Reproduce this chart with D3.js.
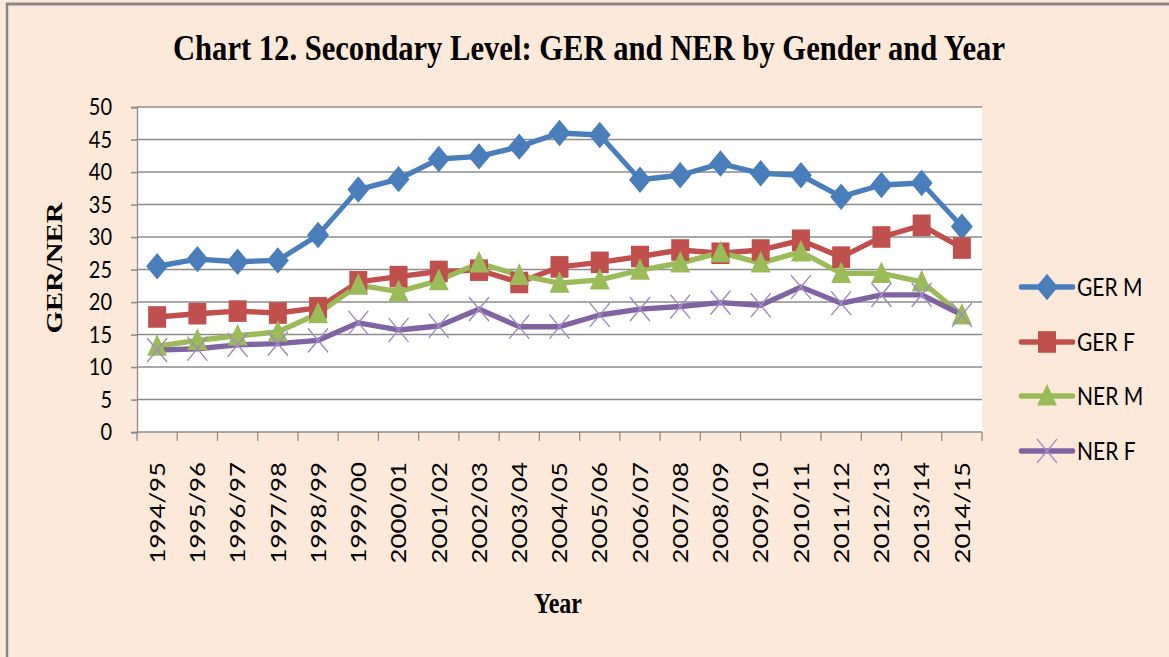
<!DOCTYPE html>
<html>
<head>
<meta charset="utf-8">
<script src="https://cdn.jsdelivr.net/npm/d3@7"></script>
<style>
  html, body { margin: 0; padding: 0; background: #fde9d9; overflow: hidden; }
</style>
</head>
<body>
<div id="chart"></div>
<script>
const years = ["1994/95", "1995/96", "1996/97", "1997/98", "1998/99", "1999/00", "2000/01",
  "2001/02", "2002/03", "2003/04", "2004/05", "2005/06", "2006/07", "2007/08", "2008/09",
  "2009/10", "2010/11", "2011/12", "2012/13", "2013/14", "2014/15"]
const gerM = [25.5, 26.6, 26.2, 26.4, 30.3, 37.3, 38.9, 42.0, 42.4, 43.9, 46.0, 45.7, 38.8, 39.5, 41.3, 39.8, 39.5, 36.2, 38.0, 38.3, 31.6]
const gerF = [17.7, 18.2, 18.6, 18.3, 19.1, 23.1, 23.9, 24.7, 24.9, 23.0, 25.4, 26.1, 27.0, 28.0, 27.5, 28.0, 29.5, 26.9, 30.0, 31.8, 28.3]
const nerM = [13.2, 14.1, 14.8, 15.4, 18.2, 22.6, 21.6, 23.3, 26.0, 24.1, 22.9, 23.4, 24.9, 26.0, 27.6, 26.0, 27.7, 24.4, 24.4, 23.1, 18.0]
const nerF = [12.6, 12.8, 13.4, 13.6, 14.1, 16.8, 15.7, 16.3, 18.9, 16.2, 16.2, 18.0, 18.9, 19.3, 19.9, 19.5, 22.3, 19.8, 21.1, 21.1, 18.0]
const seriesNames = ["GER M", "GER F", "NER M", "NER F"]
const yTicks = [0, 5, 10, 15, 20, 25, 30, 35, 40, 45, 50]

const W = 1169, H = 657
const S = 1.2   // the picture is stretched vertically
const sy = v => v / S

const series = [
  { name: seriesNames[0], values: gerM, color: "#4a7ebb", marker: "diamond" },
  { name: seriesNames[1], values: gerF, color: "#c0504d", marker: "square" },
  { name: seriesNames[2], values: nerM, color: "#9bbb59", marker: "triangle" },
  { name: seriesNames[3], values: nerF, color: "#8064a2", marker: "x" }
]

const plot = { left: 137, right: 982, top: 107, bottom: 432 }

const svg = d3.select("#chart").append("svg")
  .attr("width", W)
  .attr("height", H)
  .attr("viewBox", [0, 0, W, H / S].join(" "))
  .attr("preserveAspectRatio", "none")

// background + frame
svg.append("rect")
  .attr("x", 7).attr("y", sy(4))
  .attr("width", 1400).attr("height", 800)
  .attr("fill", "#fde9d9")
  .attr("stroke", "#878787")
  .attr("stroke-width", 2.5)

svg.append("rect")
  .attr("x", plot.left).attr("y", sy(plot.top))
  .attr("width", plot.right - plot.left)
  .attr("height", sy(plot.bottom - plot.top))
  .attr("fill", "#ffffff")

const x = d3.scaleBand()
  .domain(years)
  .range([plot.left, plot.right])
  .paddingInner(0).paddingOuter(0)

const y = d3.scaleLinear()
  .domain([0, 50])
  .range([sy(plot.bottom), sy(plot.top)])

// gridlines
svg.append("g")
  .selectAll("line")
  .data(yTicks.filter(d => d > 0))
  .join("line")
  .attr("x1", plot.left).attr("x2", plot.right)
  .attr("y1", d => y(d)).attr("y2", d => y(d))
  .attr("stroke", "#8c8c8c")
  .attr("stroke-width", 1.3)

// y axis
const yAxis = g => g
  .attr("transform", `translate(${plot.left},0)`)
  .call(d3.axisLeft(y).tickValues(yTicks).tickSize(6).tickPadding(19))
  .call(g => g.select(".domain").attr("stroke", "#8c8c8c").attr("stroke-width", 1.3))
  .call(g => g.selectAll(".tick line").attr("stroke", "#8c8c8c").attr("stroke-width", 1.3))
  .call(g => g.selectAll(".tick text")
    .attr("fill", "#000")
    .attr("font-family", "Lato, 'Open Sans', sans-serif")
    .attr("font-size", 20))

svg.append("g").call(yAxis)

// x axis
const xg = svg.append("g")
xg.append("line")
  .attr("x1", plot.left).attr("x2", plot.right)
  .attr("y1", y(0)).attr("y2", y(0))
  .attr("stroke", "#8c8c8c").attr("stroke-width", 1.3)

const bounds = years.map(d => x(d)).concat([x(years[years.length - 1]) + x.bandwidth()])
xg.selectAll("line.tk")
  .data(bounds)
  .join("line")
  .attr("class", "tk")
  .attr("x1", d => d).attr("x2", d => d)
  .attr("y1", y(0)).attr("y2", y(0) + sy(9))
  .attr("stroke", "#8c8c8c").attr("stroke-width", 1.3)

xg.selectAll("text")
  .data(years)
  .join("text")
  .attr("transform", d => `translate(${x(d) + x.bandwidth() / 2},${sy(462)}) rotate(-90)`)
  .attr("dy", "0.36em")
  .attr("text-anchor", "end")
  .attr("font-family", "Lato, 'Open Sans', sans-serif")
  .attr("font-size", 21.5)
  .attr("fill", "#000")
  .text(d => d)

// lines
const line = d3.line()
  .x((d, i) => x(years[i]) + x.bandwidth() / 2)
  .y(d => y(d))

svg.append("g")
  .attr("fill", "none")
  .attr("stroke-width", 4.5)
  .attr("stroke-linejoin", "round")
  .attr("stroke-linecap", "round")
  .selectAll("path")
  .data(series)
  .join("path")
  .attr("stroke", d => d.color)
  .attr("d", d => line(d.values))

// markers
function markerPath(type) {
  if (type === "diamond") return "M0,-11L11,0L0,11L-11,0Z"
  if (type === "square") return "M-9,-9H9V9H-9Z"
  if (type === "triangle") return "M0,-10L10,8H-10Z"
  return "M-10,-10L10,10M-10,10L10,-10"
}

function drawMarker(sel, s) {
  sel.append("path")
    .attr("d", markerPath(s.marker))
    .attr("fill", s.marker === "x" ? "none" : s.color)
    .attr("stroke", s.marker === "x" ? "#a08cc0" : "none")
    .attr("stroke-width", 1.3)
}

series.forEach(s => {
  const g = svg.append("g")
  g.selectAll("g")
    .data(s.values)
    .join("g")
    .attr("transform", (d, i) => `translate(${x(years[i]) + x.bandwidth() / 2},${y(d)})`)
    .each(function () { drawMarker(d3.select(this), s) })
})

// legend
const legendY = [287, 342, 396, 451]
const legend = svg.append("g")
series.forEach((s, i) => {
  const g = legend.append("g").attr("transform", `translate(1047,${sy(legendY[i])})`)
  g.append("line")
    .attr("x1", -26).attr("x2", 26)
    .attr("stroke", s.color).attr("stroke-width", 4.5).attr("stroke-linecap", "round")
  drawMarker(g, s)
  g.append("text")
    .attr("x", 30)
    .attr("dy", "0.36em")
    .attr("font-family", "Lato, 'Open Sans', sans-serif")
    .attr("font-size", 21)
    .attr("fill", "#000")
    .text(s.name)
})

// titles
svg.append("text")
  .attr("x", 589).attr("y", sy(60))
  .attr("text-anchor", "middle")
  .attr("font-family", "'Liberation Serif', 'Times New Roman', serif")
  .attr("font-weight", "bold")
  .attr("font-size", 30)
  .attr("textLength", 832)
  .attr("lengthAdjust", "spacingAndGlyphs")
  .text("Chart 12. Secondary Level: GER and NER by Gender and Year")

svg.append("text")
  .attr("transform", `translate(62,${sy(268)}) rotate(-90)`)
  .attr("text-anchor", "middle")
  .attr("font-family", "'Liberation Serif', 'Times New Roman', serif")
  .attr("font-weight", "bold")
  .attr("font-size", 24)
  .text("GER/NER")

svg.append("text")
  .attr("x", 558).attr("y", sy(613))
  .attr("text-anchor", "middle")
  .attr("font-family", "'Liberation Serif', 'Times New Roman', serif")
  .attr("font-weight", "bold")
  .attr("font-size", 24)
  .text("Year")
</script>
</body>
</html>
